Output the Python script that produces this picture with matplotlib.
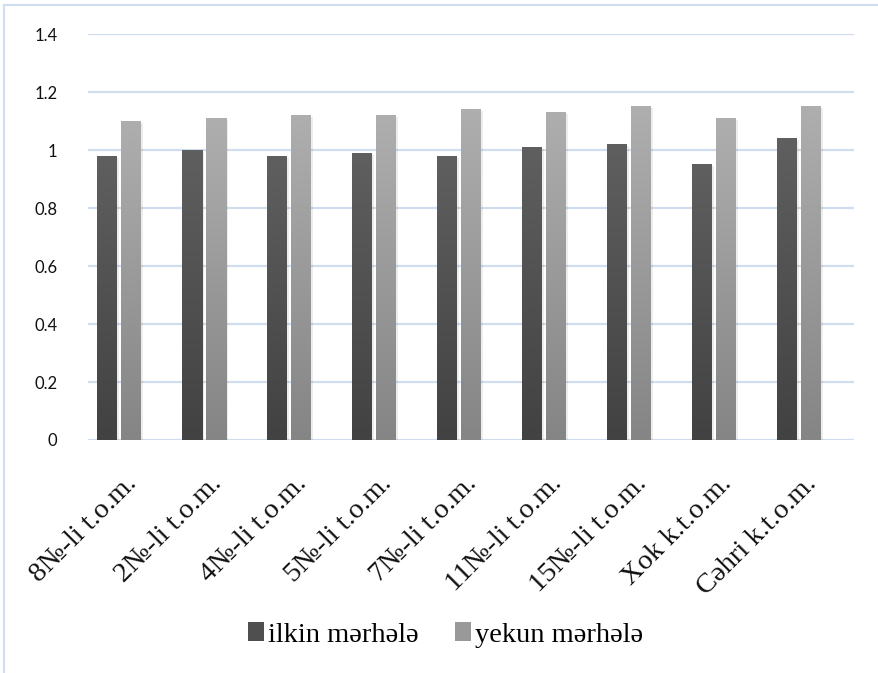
import matplotlib
matplotlib.use('Agg')
import matplotlib.pyplot as plt
import matplotlib.transforms as mtransforms
from matplotlib.patches import Patch
from matplotlib.lines import Line2D
import numpy as np

categories = ['8№-li t.o.m.', '2№-li t.o.m.', '4№-li t.o.m.', '5№-li t.o.m.',
              '7№-li t.o.m.', '11№-li t.o.m.', '15№-li t.o.m.', 'Xok k.t.o.m.',
              'Cəhri k.t.o.m.']
ilkin = [0.98, 1.00, 0.98, 0.99, 0.98, 1.01, 1.02, 0.95, 1.04]
yekun = [1.10, 1.11, 1.12, 1.12, 1.14, 1.13, 1.15, 1.11, 1.15]
series_names = ['ilkin mərhələ', 'yekun mərhələ']
yticks = [0, 0.2, 0.4, 0.6, 0.8, 1.0, 1.2, 1.4]
ytick_labels = ['0', '0.2', '0.4', '0.6', '0.8', '1', '1.2', '1.4']

dark_top, dark_bot = '#5f5f5f', '#424242'
light_top, light_bot = '#aeaeae', '#858585'
grid_col = '#cfddef'


def gradient_bar(ax, x, h, w, top, bot):
    c0 = np.array(matplotlib.colors.to_rgb(top))
    c1 = np.array(matplotlib.colors.to_rgb(bot))
    t = np.linspace(0, 1, 64)[:, None]
    img = (c0 * (1 - t) + c1 * t)[:, None, :]
    # soft shadow
    ax.bar(x + 0.012, h, w + 0.02, bottom=-0.006, color='#000000', alpha=0.07,
           zorder=2, linewidth=0)
    ax.imshow(img, extent=[x - w / 2, x + w / 2, 0, h], aspect='auto',
              origin='upper', zorder=3, interpolation='bilinear')


def main():
    fig = plt.figure(figsize=(8.79, 6.73), dpi=100)
    ax = fig.add_axes([88 / 879, 1 - 440 / 673, (854 - 88) / 879, (440 - 34.3) / 673])

    x = np.arange(len(categories))
    w = 20 / 85
    off = 12 / 85
    for i in x:
        gradient_bar(ax, i - off, ilkin[i], w, dark_top, dark_bot)
        gradient_bar(ax, i + off, yekun[i], w, light_top, light_bot)

    ax.set_xlim(-31 / 85, (854 - 119) / 85)
    ax.set_ylim(0, 1.4)
    ax.set_yticks(yticks)
    ax.set_yticklabels(ytick_labels, fontsize=12, family='Lato', color='#111111')
    ax.tick_params(axis='y', length=0, pad=22)
    ax.set_xticks([])
    for s in ax.spines.values():
        s.set_visible(False)
    ax.yaxis.grid(True, color=grid_col, linewidth=1.6)
    ax.set_axisbelow(True)

    trans = mtransforms.offset_copy(ax.get_xaxis_transform(), fig=fig,
                                    x=14, y=-40, units='dots')
    for i, lab in enumerate(categories):
        ax.text(i, 0, lab, transform=trans, rotation=45, rotation_mode='anchor',
                ha='right', va='center', fontsize=20.5, family='Liberation Serif',
                color='#111111')

    handles = [Patch(facecolor='#4f4f4f', edgecolor='none'),
               Patch(facecolor='#999999', edgecolor='none')]
    fig.legend(handles, series_names, loc='center', bbox_to_anchor=(0.507, 1 - 635 / 673),
               ncol=2, frameon=False, handlelength=0.55, handleheight=0.6,
               handletextpad=0.15, columnspacing=1.3,
               prop={'family': 'Liberation Serif', 'size': 20.5})

    # outer chart border
    fig.add_artist(Line2D([4 / 879, 1], [1 - 5 / 673] * 2, color=grid_col, lw=1.5))
    fig.add_artist(Line2D([4 / 879] * 2, [0, 1 - 5 / 673], color=grid_col, lw=1.5))

    fig.savefig('out.png', dpi=100)


if __name__ == '__main__':
    main()
